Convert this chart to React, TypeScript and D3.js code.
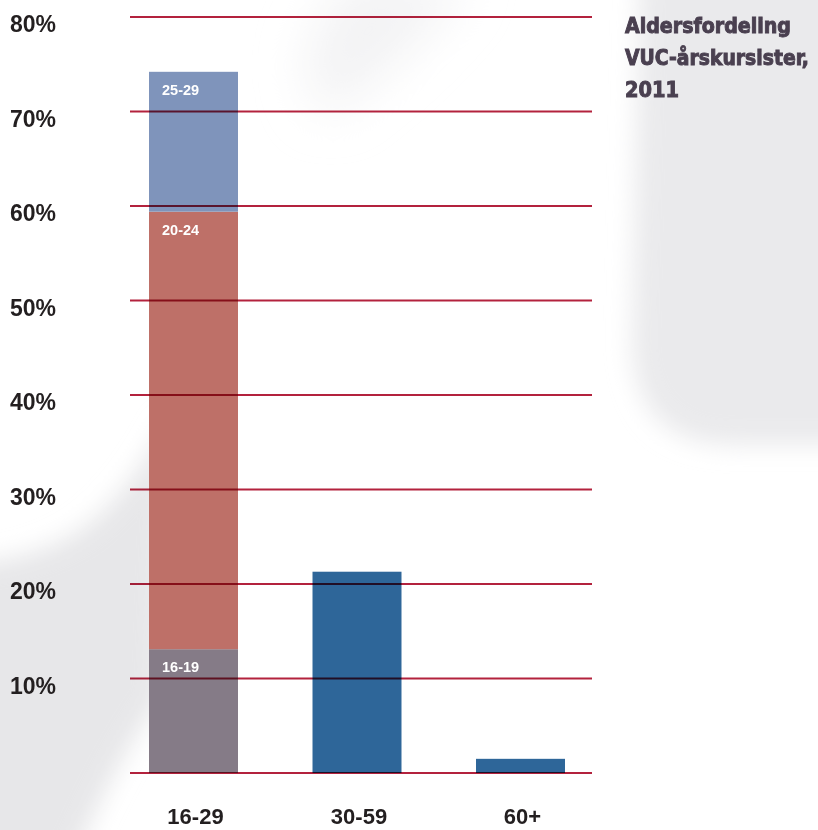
import { useEffect, useRef } from 'react'
import { select, scaleLinear, scaleBand, stack } from 'd3'

const categories = ['16-29', '30-59', '60+']
const totals = [74.2, 21.3, 1.5]
const subGroups = ['16-19', '20-24', '25-29']
const subValues = [13.1, 46.3, 14.8]
const subColors = ['#857b87', '#be7068', '#7f94bb']
const yTicks = [10, 20, 30, 40, 50, 60, 70, 80]
const titleLines = ['Aldersfordeling', 'VUC-årskursister,', '2011']
const titleWidths = [166, 184, 54]

const W = 818
const H = 830

export default function App() {
  const svgRef = useRef<SVGSVGElement | null>(null)

  useEffect(() => {
    const svg = select(svgRef.current)
    svg.selectAll('*').remove()

    const y = scaleLinear().domain([0, 80]).range([773, 17])
    const x = scaleBand<string>().domain(categories).range([149, 565]).paddingInner(0.4557).paddingOuter(0)

    // soft grey background shapes
    const defs = svg.append('defs')
    defs.append('filter').attr('id', 'blur').attr('x', '-50%').attr('y', '-50%').attr('width', '200%').attr('height', '200%')
      .append('feGaussianBlur').attr('stdDeviation', 12)
    defs.append('filter').attr('id', 'blur2').attr('x', '-50%').attr('y', '-50%').attr('width', '200%').attr('height', '200%')
      .append('feGaussianBlur').attr('stdDeviation', 24)

    const bg = svg.append('g')
    bg.append('rect').attr('width', W).attr('height', H).attr('fill', '#ffffff')
    bg.append('path')
      .attr('d', 'M640,-40 L880,-40 L880,445 L735,445 Q632,445 632,340 Z')
      .attr('fill', '#eaeaec').attr('filter', 'url(#blur)')
    bg.append('path')
      .attr('d', 'M170,415 Q130,495 80,530 Q35,560 -40,565 L-40,880 L65,880 Q110,770 160,700 Z')
      .attr('fill', '#e7e7e9').attr('filter', 'url(#blur)')
    bg.append('path')
      .attr('d', 'M345,-20 L470,-20 Q420,50 330,115 Q300,95 310,45 Z')
      .attr('fill', '#f3f3f4').attr('filter', 'url(#blur2)')

    // bars
    const first = categories[0]
    const row: Record<string, number> = {}
    subGroups.forEach((k, i) => (row[k] = subValues[i]))
    const series = stack<Record<string, number>>().keys(subGroups)([row])

    const bars = svg.append('g')
    series.forEach((s, i) => {
      const [y0, y1] = s[0]
      bars.append('rect')
        .attr('x', x(first)!)
        .attr('width', x.bandwidth())
        .attr('y', y(y1))
        .attr('height', y(y0) - y(y1))
        .attr('fill', subColors[i])
      bars.append('text')
        .attr('x', x(first)! + 13)
        .attr('y', y(y1) + 23)
        .attr('fill', '#ffffff')
        .attr('font-family', "'Liberation Sans', Arial, sans-serif")
        .attr('font-weight', 'bold')
        .attr('font-size', 14.5)
        .text(subGroups[i])
    })
    categories.slice(1).forEach((c, i) => {
      const v = totals[i + 1]
      bars.append('rect')
        .attr('x', x(c)!)
        .attr('width', x.bandwidth())
        .attr('y', y(v))
        .attr('height', y(0) - y(v))
        .attr('fill', '#2e6699')
    })

    // gridlines over the bars
    svg.append('g')
      .style('mix-blend-mode', 'multiply')
      .selectAll('line')
      .data([0, ...yTicks])
      .join('line')
      .attr('x1', 130)
      .attr('x2', 592)
      .attr('y1', (d) => y(d))
      .attr('y2', (d) => y(d))
      .attr('stroke', '#b3223d')
      .attr('stroke-width', 2.2)

    // y tick labels
    svg.append('g')
      .selectAll('text')
      .data(yTicks)
      .join('text')
      .attr('x', 10)
      .attr('y', (d) => y(d) + 7)
      .attr('dominant-baseline', 'central')
      .attr('fill', '#231f20')
      .attr('font-family', "'Liberation Sans', Arial, sans-serif")
      .attr('font-weight', 'bold')
      .attr('font-size', 23)
      .text((d) => `${d}%`)

    // x labels
    svg.append('g')
      .selectAll('text')
      .data(categories)
      .join('text')
      .attr('x', (d) => x(d)! + x.bandwidth() / 2 + 2)
      .attr('y', 824)
      .attr('text-anchor', 'middle')
      .attr('fill', '#231f20')
      .attr('font-family', "'Liberation Sans', Arial, sans-serif")
      .attr('font-weight', 'bold')
      .attr('font-size', 22)
      .text((d) => d)

    // title
    svg.append('g')
      .selectAll('text')
      .data(titleLines)
      .join('text')
      .attr('x', 625)
      .attr('y', (_, i) => 33 + i * 32)
      .attr('fill', '#4a4050')
      .attr('stroke', '#4a4050')
      .attr('stroke-width', 0.9)
      .attr('font-family', "'DejaVu Sans Condensed', 'Liberation Sans Narrow', sans-serif")
      .attr('font-weight', 'bold')
      .attr('font-size', 21)
      .attr('textLength', (_, i) => titleWidths[i])
      .attr('lengthAdjust', 'spacingAndGlyphs')
      .text((d) => d)
  }, [])

  return (
    <svg
      ref={svgRef}
      width={W}
      height={H}
      style={{ position: 'absolute', left: 0, top: 0, display: 'block' }}
    />
  )
}
